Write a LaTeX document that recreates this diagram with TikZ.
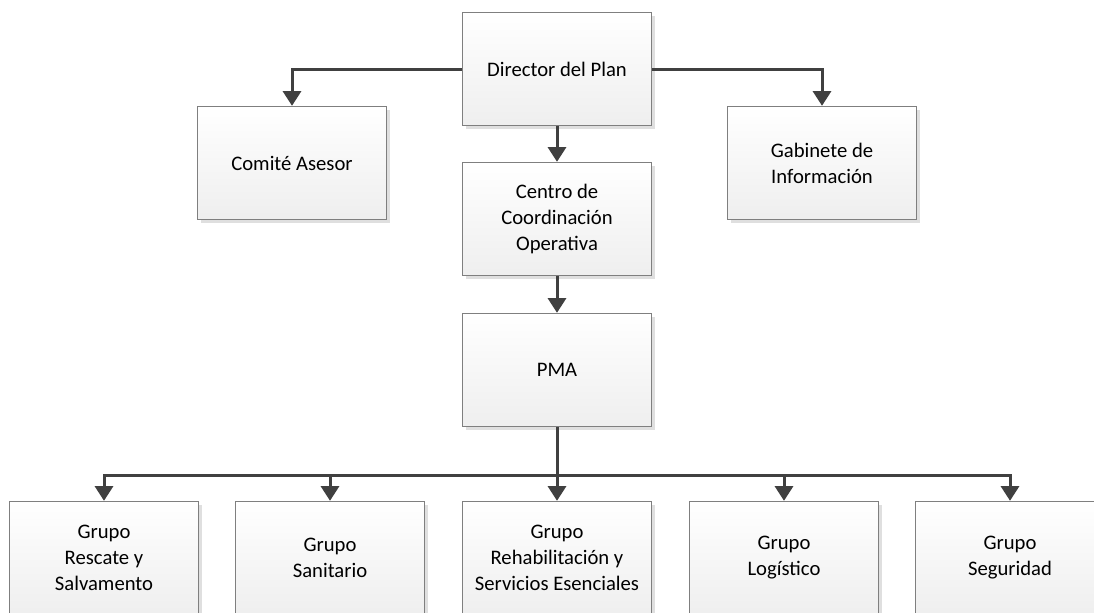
\documentclass[tikz,border=0pt]{standalone}
\usepackage{fontspec}
\setmainfont{Carlito}
\usepackage{tikz}
\usetikzlibrary{shapes,arrows}
\usetikzlibrary{positioning}
\usetikzlibrary{shadows}
\usetikzlibrary{arrows.meta}
\definecolor{linegray}{HTML}{404040}
\definecolor{boxgray}{HTML}{7F7F7F}
\tikzstyle{line} = [draw=linegray, line width=2.25pt, -{Triangle[length=11pt,width=13.5pt]}]

\begin{document}
\begin{tikzpicture}[
  x=0.75pt, y=-0.75pt,
  every node/.style={font=\fontsize{15.5}{19.5}\selectfont},
  box/.style={draw=boxgray, rectangle, line width=0.8pt, align=center,
    minimum width=142pt, minimum height=85pt,
    top color=white, bottom color=gray!13,
    drop shadow={shadow xshift=2.5pt, shadow yshift=-2.5pt, fill=gray!25, opacity=1}}]
  \useasboundingbox (0,0) rectangle (1094,612);
  \clip (0,0) rectangle (1094,612);
  %% Boxes
  \node [box] at (557,69) (D) {Director del Plan};
  \node [box] at (292,163) (C) {Comité Asesor};
  \node [box] at (822,163) (G) {Gabinete de\\Información};
  \node [box] at (557,219) (CC) {Centro de\\Coordinación\\Operativa};
  \node [box] at (557,370) (P) {PMA};
  \node [box] at (104,558) (G1) {Grupo\\Rescate y\\Salvamento};
  \node [box] at (330,558) (G2) {Grupo\\Sanitario};
  \node [box] at (557,558) (G3) {Grupo\\Rehabilitación y\\Servicios Esenciales};
  \node [box] at (784,558) (G4) {Grupo\\Logístico};
  \node [box] at (1010,558) (G5) {Grupo\\Seguridad};
  \coordinate (bus) at (557,475);
  %% Links
  \path [line] (D.west) -| (C.north);
  \path [line] (D.east) -| (G.north);
  \path [line] (D) -- (CC);
  \path [line] (CC) -- (P);
  \draw [draw=linegray, line width=2.25pt] (P.south) -- (bus);
  \foreach \g in {G1,G2,G3,G4,G5}
    \path [line] (bus) -| (\g.north);
\end{tikzpicture}
\end{document}
